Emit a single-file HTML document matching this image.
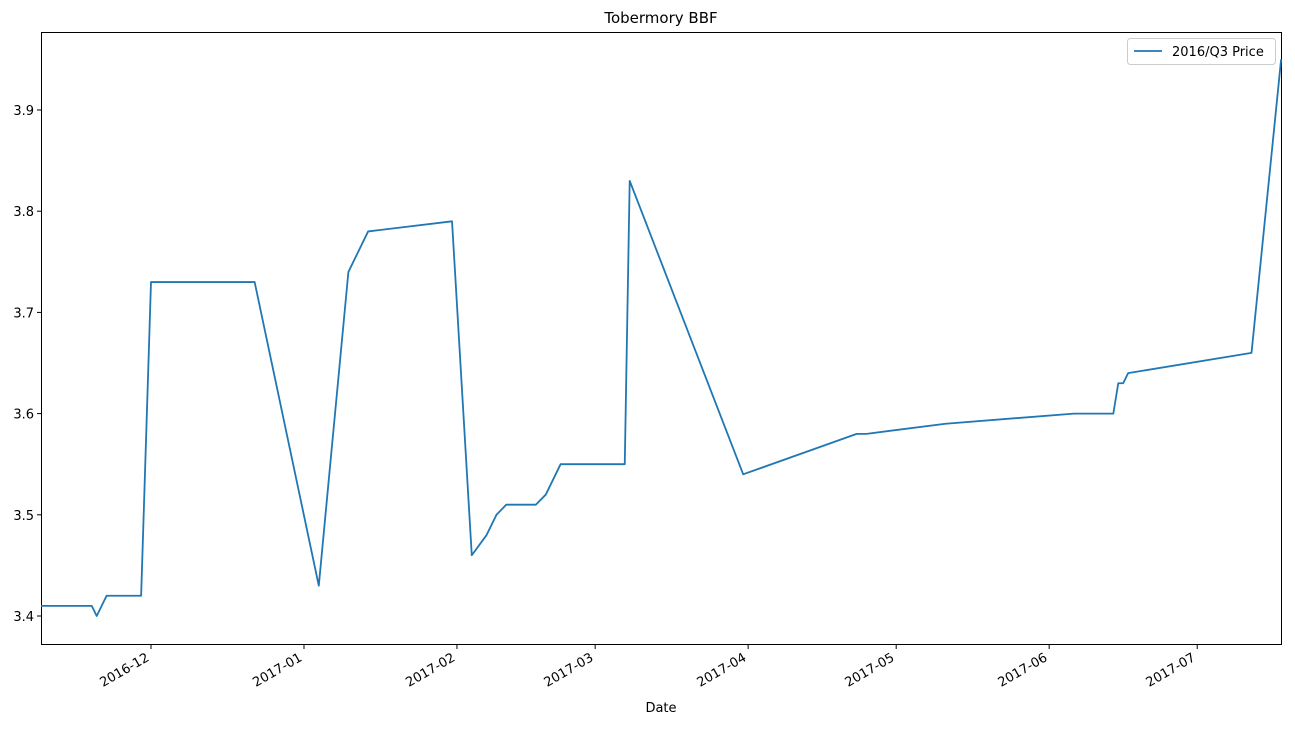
<!DOCTYPE html>
<html><head><meta charset="utf-8"><style>
body{margin:0;background:#fff;}
svg text{font-family:"DejaVu Sans","Liberation Sans",sans-serif;fill:#000;}
</style></head><body>
<svg id="chart" width="1295" height="724">
<text x="661" y="23" font-size="15" text-anchor="middle">Tobermory BBF</text>
<rect x="41.5" y="32.5" width="1240" height="612" fill="none" stroke="#000" stroke-width="1"/>
<g id="xaxis"></g>
<g id="yaxis"></g>
<text x="661" y="712" font-size="13" text-anchor="middle">Date</text>
<g id="series"></g>
<g>
<rect x="1127.5" y="38.5" width="148" height="26" rx="3" fill="#fff" stroke="#ccc"/>
<line x1="1134" y1="51" x2="1162" y2="51" stroke="#1f77b4" stroke-width="1.8"/>
<text x="1172" y="56" font-size="13">2016/Q3 Price</text>
</g>
</svg>
<script>
const dates=["2016-11-08","2016-11-19","2016-11-20","2016-11-22","2016-11-29","2016-12-01","2016-12-22","2017-01-04","2017-01-10","2017-01-14","2017-01-31","2017-02-04","2017-02-07","2017-02-09","2017-02-11","2017-02-17","2017-02-19","2017-02-22","2017-03-07","2017-03-08","2017-03-31","2017-04-23","2017-04-25","2017-05-11","2017-06-06","2017-06-14","2017-06-15","2017-06-16","2017-06-17","2017-07-12","2017-07-18"];
const prices=[3.41,3.41,3.40,3.42,3.42,3.73,3.73,3.43,3.74,3.78,3.79,3.46,3.48,3.50,3.51,3.51,3.52,3.55,3.55,3.83,3.54,3.58,3.58,3.59,3.60,3.60,3.63,3.63,3.64,3.66,3.95];
const xTickLabels=["2016-12","2017-01","2017-02","2017-03","2017-04","2017-05","2017-06","2017-07"];
const yTickLabels=[3.4,3.5,3.6,3.7,3.8,3.9];
const NS="http://www.w3.org/2000/svg";
const day=s=>(Date.parse(s)-Date.parse("2016-12-01"))/86400000;
const X=d=>151+d*4.935;
const Y=v=>616-(v-3.4)*1012;
const xa=document.getElementById("xaxis"),ya=document.getElementById("yaxis"),sg=document.getElementById("series");
function mk(t,a,p){const e=document.createElementNS(NS,t);for(const k in a)e.setAttribute(k,a[k]);p.appendChild(e);return e;}
xTickLabels.forEach(l=>{
 const x=X(day(l+"-01"));
 const t=mk("line",{x1:x,x2:x,y1:645,y2:649,stroke:"#000"},xa);
 
 
 const ax=x-1,ay=660;
 const tx=mk("text",{x:ax,y:ay,"font-size":13,"text-anchor":"end",transform:`rotate(-30 ${ax} ${ay})`},xa);
 tx.textContent=l;
 
 
});
yTickLabels.forEach(v=>{
 const y=Y(v);
 const t=mk("line",{x1:37,x2:41,y1:y,y2:y,stroke:"#000"},ya);
 
 
 const tx=mk("text",{x:34,y:y+5,"font-size":13,"text-anchor":"end"},ya);
 tx.textContent=v.toFixed(1);
 
 
});
const pts=dates.map((d,i)=>Math.min(1282,Math.max(41,X(day(d))))+","+Y(prices[i])).join(" ");
const pl=mk("polyline",{points:pts,fill:"none",stroke:"#1f77b4","stroke-width":1.8,"stroke-linejoin":"round"},sg);


</script>
</body></html>
